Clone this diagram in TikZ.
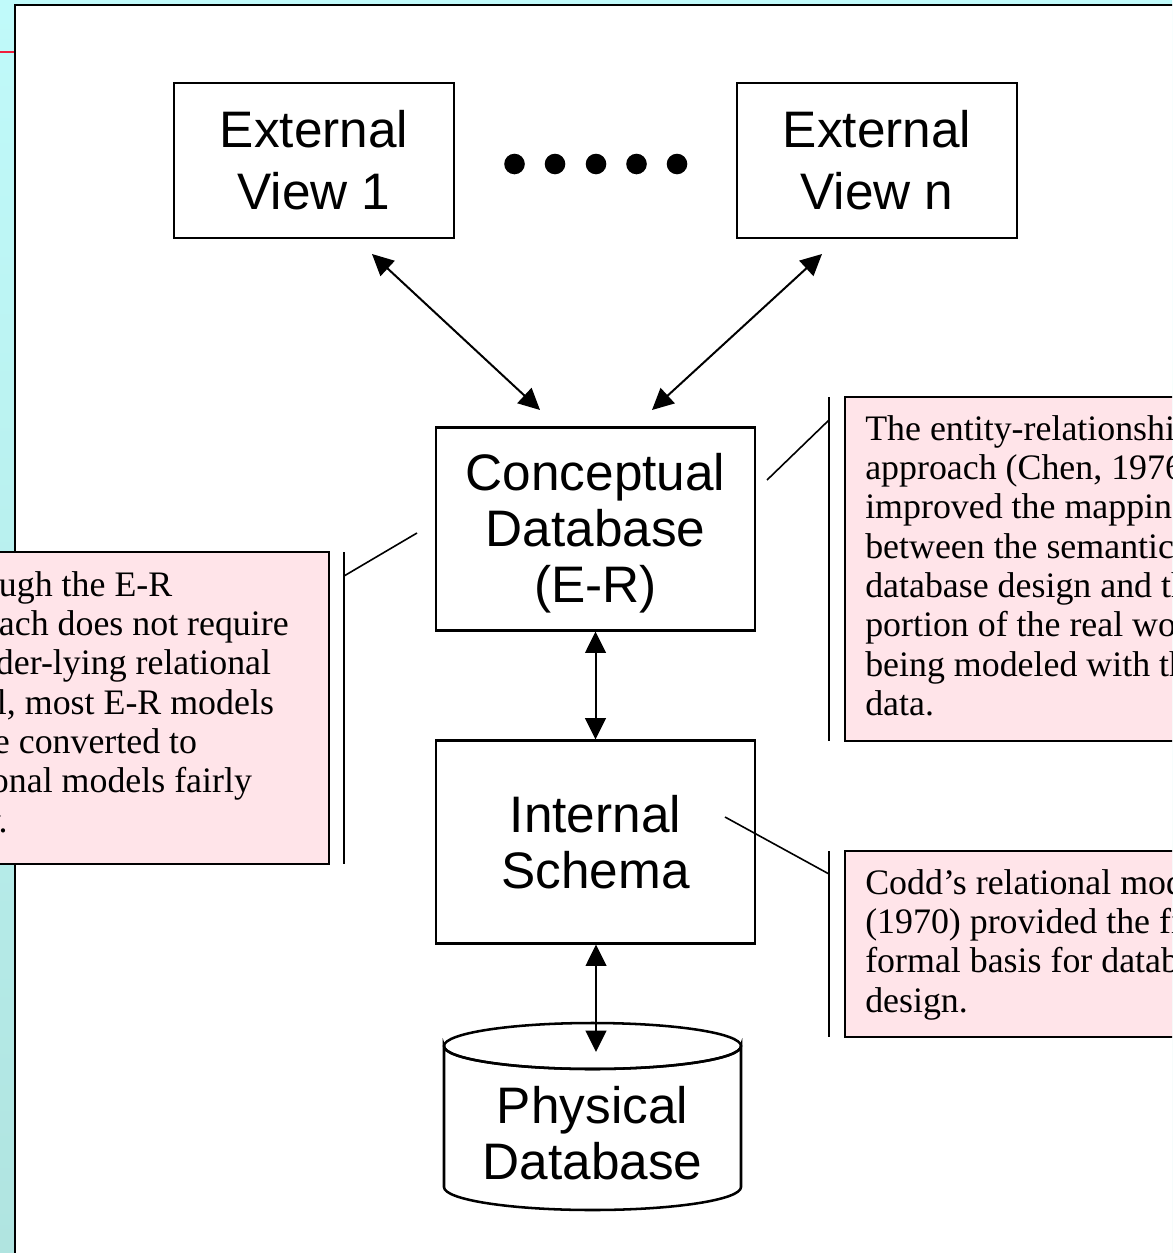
\documentclass[tikz,border=0pt]{standalone}
\usepackage{fontspec}
\setmainfont{Liberation Serif}
\newfontfamily\arialfont{Liberation Sans}
\usetikzlibrary{arrows.meta}
\definecolor{panelcyanA}{RGB}{192,250,250}
\definecolor{panelcyanB}{RGB}{176,228,224}
\definecolor{notepink}{RGB}{255,228,233}
\definecolor{marginred}{RGB}{240,30,60}
\newcommand\boxfont{\arialfont\fontsize{38.5pt}{42pt}\selectfont}
\newcommand\viewfont{\arialfont\fontsize{38.5pt}{46.5pt}\selectfont}
\newcommand\notefont{\fontsize{26.9pt}{29.5pt}\selectfont}
\begin{document}
\begin{tikzpicture}[x=0.75pt,y=-0.75pt,
  levelbox/.style={draw, line width=1.9pt, fill=white, align=center, inner sep=0pt, font=\boxfont},
  viewbox/.style={levelbox, font=\viewfont, minimum width=210pt, minimum height=116.25pt},
  schemabox/.style={levelbox, minimum width=239.25pt, minimum height=152pt},
  boxtext/.style={font=\boxfont, align=center, inner sep=0pt},
  dbl/.style={{Triangle[length=16pt,width=15.5pt]}-{Triangle[length=16pt,width=15.5pt]}, line width=1.5pt},
  notebox/.style={draw, line width=1.8pt, fill=notepink},
  notetext/.style={font=\notefont, align=left, inner sep=0pt, anchor=north west},
  bracketline/.style={line width=1.5pt},
  leader/.style={line width=1.2pt}]

% page background and white panel
\clip (0,0) rectangle (1172,1253);
\shade[top color=panelcyanA, bottom color=panelcyanB] (0,0) rectangle (1172,1253);
\draw[marginred, line width=1.6pt] (0,52) -- (15,52);
\draw[fill=white, line width=1.9pt] (15,5) rectangle (1200,1290);

% external views
\node[viewbox] (ev1) at (314,160.5) {External\\View 1};
\node[viewbox] (evn) at (877,160.5) {External\\View n};
\foreach \dx in {514.5,555,596,636.5,677}
  \fill (\dx,164) circle[radius=10.3];

% conceptual and internal levels
\node[schemabox] (concept) at (595.5,529) {};
\node[boxtext] (conceptText) at (595.5,533) {Conceptual\\Database\\(E-R)};
\node[schemabox] (internal) at (595.5,842) {Internal\\Schema};

% physical database cylinder
\filldraw[line width=1.9pt, fill=white] (444,1046) -- (444,1187)
  arc[start angle=180, end angle=0, x radius=148.5, y radius=23]
  -- (741,1046)
  arc[start angle=0, end angle=180, x radius=148.5, y radius=23] -- cycle;
\draw[line width=1.9pt] (592.5,1046) ellipse[x radius=148.5, y radius=23];
\node[boxtext] (phys) at (592.5,1133) {Physical\\Database};
\coordinate (physTop) at (596,1052);

% mappings between levels
\coordinate (ev1End) at (372,254);
\coordinate (ev1Concept) at (540,410);
\coordinate (evnEnd) at (822,254);
\coordinate (evnConcept) at (652,410);
\draw[dbl] (ev1End) -- (ev1Concept);
\draw[dbl] (evnEnd) -- (evnConcept);
\draw[dbl] (concept.south) -- (internal.north);
\draw[dbl] (internal.south -| physTop) -- (physTop);

% annotation: entity-relationship approach
\draw[notebox] (845,397) rectangle (1200,741);
\draw[bracketline] (829,397) -- (829,741);
\coordinate (erFrom) at (767,480);
\coordinate (erTo) at (829,420);
\draw[leader] (erFrom) -- (erTo);
\node[notetext] (noteER) at (865,415) {The entity-relationship\\approach (Chen, 1976)\\improved the mapping\\between the semantics of\\database design and the\\portion of the real world\\being modeled with the\\data.};

% annotation: relational model
\draw[notebox] (845,851) rectangle (1200,1037);
\draw[bracketline] (829,851) -- (829,1037);
\coordinate (coddFrom) at (725,817);
\coordinate (coddTo) at (829,874);
\draw[leader] (coddFrom) -- (coddTo);
\node[notetext] (noteCodd) at (865,869) {Codd’s relational model\\(1970) provided the first\\formal basis for database\\design.};

% annotation: conversion of E-R models
\draw[notebox] (-140,552) rectangle (329,864);
\draw[bracketline] (344,552) -- (344,864);
\coordinate (convFrom) at (417,533);
\coordinate (convTo) at (344,576);
\draw[leader] (convFrom) -- (convTo);
\node[notetext] (noteConv) at (-83,571) {Although the E-R\\approach does not require\\an under-lying relational\\model, most E-R models\\can be converted to\\relational models fairly\\easily.};
\end{tikzpicture}
\end{document}
